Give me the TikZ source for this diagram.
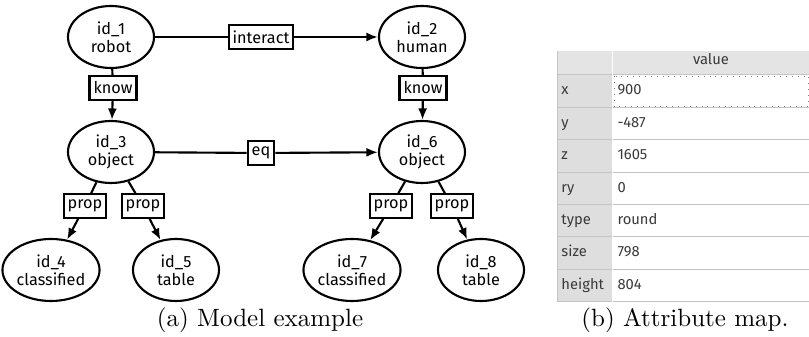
\documentclass[tikz,border=0pt]{standalone}
\usepackage{fontspec}
\newfontfamily\nodefont{Fira Sans}
\usetikzlibrary{shapes.geometric,arrows.meta}
\definecolor{hdrgray}{HTML}{E4E4E4}
\definecolor{labgray}{HTML}{DEDEDE}
\definecolor{gridgray}{HTML}{C4C4C4}
\definecolor{txtgray}{HTML}{3A3A3A}
\begin{document}
\begin{tikzpicture}[x=0.4pt,y=-0.4pt,
  ent/.style={ellipse,draw,line width=0.85pt,minimum width=34.4pt,minimum height=24.8pt,inner sep=0pt,align=center,font=\nodefont\fontsize{6.5}{7.3}\selectfont},
  rel/.style={rectangle,draw,line width=0.85pt,fill=white,minimum height=9.4pt,inner xsep=1.6pt,inner ysep=0pt,font=\nodefont\fontsize{6.5}{7.3}\selectfont},
  edgeline/.style={line width=0.85pt},
  arr/.style={edgeline,-{Latex[length=4.6pt,width=3.6pt]}},
  celltxt/.style={anchor=base west,inner sep=0pt,text=txtgray,font=\nodefont\fontsize{5.9}{7}\selectfont},
  gridline/.style={draw=gridgray,line width=0.4pt},
  captxt/.style={anchor=base,inner sep=0pt}
]
\useasboundingbox (0,0) rectangle (809,337);

% entities
\node[ent] (n1) at (111,37) {id\_1\\robot};
\node[ent] (n2) at (422,37) {id\_2\\human};
\node[ent] (n3) at (111,152) {id\_3\\object};
\node[ent] (n6) at (422,152) {id\_6\\object};
\node[ent] (n4) at (51,270) {id\_4\\classified};
\node[ent] (n5) at (176,270) {id\_5\\table};
\node[ent] (n7) at (352,270) {id\_7\\classified};
\node[ent] (n8) at (481,270) {id\_8\\table};

% relation labels
\node[rel] (l12) at (261,37) {interact};
\node[rel] (l13) at (113,88) {know};
\node[rel] (l26) at (423,88) {know};
\node[rel] (l36) at (261,153) {eq};
\node[rel] (l34) at (85,206) {prop};
\node[rel] (l35) at (143,206) {prop};
\node[rel] (l67) at (391,206) {prop};
\node[rel] (l68) at (452,206) {prop};

% connectors
\draw[edgeline] (n1) -- (l12); \draw[arr] (l12) -- (n2);
\draw[edgeline] (n1) -- (l13); \draw[arr] (l13) -- (n3);
\draw[edgeline] (n2) -- (l26); \draw[arr] (l26) -- (n6);
\draw[edgeline] (n3) -- (l36); \draw[arr] (l36) -- (n6);
\draw[edgeline] (n3) -- (l34); \draw[arr] (l34) -- (n4);
\draw[edgeline] (n3) -- (l35); \draw[arr] (l35) -- (n5);
\draw[edgeline] (n6) -- (l67); \draw[arr] (l67) -- (n7);
\draw[edgeline] (n6) -- (l68); \draw[arr] (l68) -- (n8);

% attribute table
\fill[hdrgray] (557,51) rectangle (809,75);
\fill[labgray] (557,75) rectangle (612,302);
\foreach \k in {0,...,7} {
  \draw[gridline] (557,75+32.4*\k) -- (809,75+32.4*\k);
}
\draw[gridline] (557,51) -- (557,302);
\draw[white,line width=0.5pt] (612.5,51) -- (612.5,302);
\draw[gray,dotted,line width=0.35pt] (614,76.5) rectangle (808.5,106.5);
\node[celltxt,anchor=base] (hval) at (711,65) {value};
\foreach \lab/\val [count=\i from 0] in {x/900,y/-487,z/1605,ry/0,type/round,size/798,height/804} {
  \node[celltxt] (lab\i) at (561,95+32.4*\i) {\lab};
  \node[celltxt] (val\i) at (617,95+32.4*\i) {\val};
}

% captions
\node[captxt] (capa) at (260,327) {(a) Model example};
\node[captxt] (capb) at (685,327) {(b) Attribute map.};
\end{tikzpicture}
\end{document}
